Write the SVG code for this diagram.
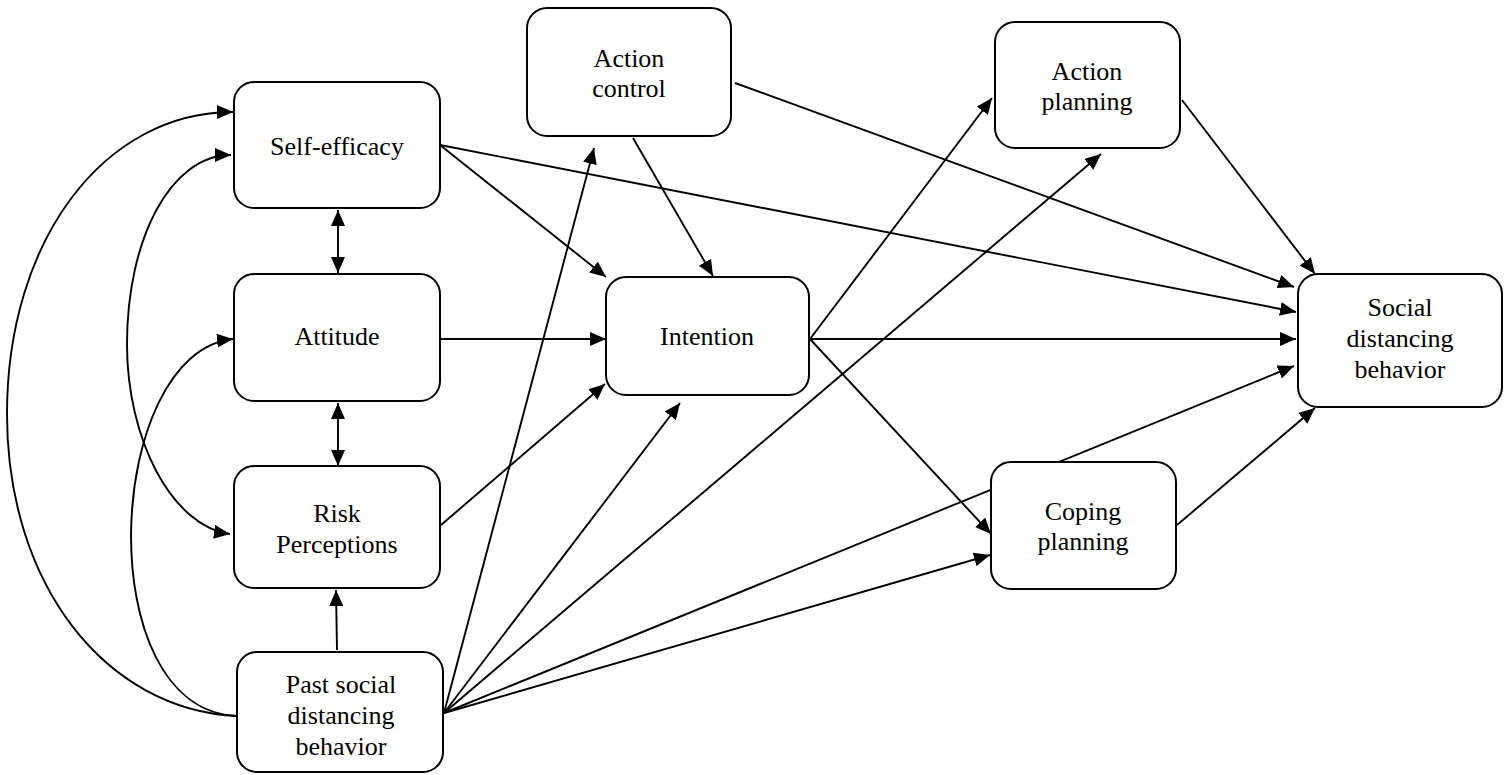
<svg xmlns="http://www.w3.org/2000/svg" width="1504" height="775" viewBox="0 0 1504 775">
<style>
.box{fill:#fff;stroke:#000;stroke-width:2}
.c{fill:none;stroke:#000;stroke-width:1.9}
.a{marker-end:url(#ah)}
.b{marker-start:url(#ah);marker-end:url(#ah)}
.t{font-family:'Liberation Serif','Times New Roman',serif;font-size:26px;fill:#000;text-anchor:middle}
</style>
<defs>
<marker id="ah" markerUnits="userSpaceOnUse" markerWidth="16" markerHeight="14" viewBox="0 0 16 14" refX="16" refY="7" orient="auto-start-reverse">
<path d="M0,0 L16,7 L0,14 z" fill="#000"/>
</marker>
</defs>
<rect width="1504" height="775" fill="#fff"/>
<g id="connectors">
<path class="c a" d="M237,716 C106,710 7,585 7,414 C7,240 104,112 233,112"/>
<path class="c b" d="M231,155 C170,155 127,240 127,344 C127,440 172,526 230,534"/>
<path class="c a" d="M237,716 C88,710 105,352 233,339"/>
<line class="c b" x1="338" y1="210" x2="338" y2="273"/>
<line class="c b" x1="338" y1="403" x2="338" y2="466"/>
<line class="c a" x1="337" y1="650" x2="336" y2="590"/>
<line class="c a" x1="440" y1="145" x2="606" y2="277"/>
<line class="c a" x1="440" y1="145" x2="1296" y2="312"/>
<line class="c a" x1="633" y1="138" x2="713" y2="276"/>
<line class="c a" x1="735" y1="83" x2="1294" y2="287"/>
<line class="c a" x1="440" y1="339" x2="606" y2="339"/>
<line class="c a" x1="441" y1="525" x2="605" y2="384"/>
<line class="c a" x1="444" y1="713" x2="594" y2="148"/>
<line class="c a" x1="444" y1="713" x2="680" y2="403"/>
<line class="c a" x1="444" y1="713" x2="1101" y2="154"/>
<line class="c a" x1="444" y1="713" x2="1294" y2="366"/>
<line class="c a" x1="444" y1="713" x2="990" y2="555"/>
<line class="c a" x1="810" y1="339" x2="992" y2="98"/>
<line class="c a" x1="810" y1="339" x2="1296" y2="339"/>
<line class="c a" x1="810" y1="339" x2="991" y2="534"/>
<line class="c a" x1="1182" y1="100" x2="1315" y2="274"/>
<line class="c a" x1="1177" y1="525" x2="1315" y2="408"/>
</g>
<g id="self-efficacy"><rect class="box" x="234" y="82" width="206" height="126" rx="20"/><text class="t" x="337" y="155">Self-efficacy</text></g>
<g id="attitude"><rect class="box" x="234" y="274" width="206" height="127" rx="20"/><text class="t" x="337" y="345">Attitude</text></g>
<g id="risk-perceptions"><rect class="box" x="234" y="466" width="206" height="122" rx="20"/><text class="t" x="337" y="522">Risk</text><text class="t" x="337" y="553">Perceptions</text></g>
<g id="past-behavior"><rect class="box" x="237" y="652" width="206" height="120" rx="20"/><text class="t" x="341" y="693">Past social</text><text class="t" x="341" y="724">distancing</text><text class="t" x="341" y="755">behavior</text></g>
<g id="action-control"><rect class="box" x="527" y="8" width="204" height="128" rx="20"/><text class="t" x="629" y="67">Action</text><text class="t" x="629" y="97">control</text></g>
<g id="intention"><rect class="box" x="606" y="277" width="203" height="118" rx="20"/><text class="t" x="707" y="345">Intention</text></g>
<g id="action-planning"><rect class="box" x="995" y="22" width="185" height="126" rx="20"/><text class="t" x="1087" y="80">Action</text><text class="t" x="1087" y="110">planning</text></g>
<g id="social-distancing-behavior"><rect class="box" x="1298" y="274" width="204" height="133" rx="20"/><text class="t" x="1400" y="316">Social</text><text class="t" x="1400" y="347">distancing</text><text class="t" x="1400" y="378">behavior</text></g>
<g id="coping-planning"><rect class="box" x="991" y="462" width="185" height="127" rx="20"/><text class="t" x="1083" y="520">Coping</text><text class="t" x="1083" y="550">planning</text></g>
</svg>
